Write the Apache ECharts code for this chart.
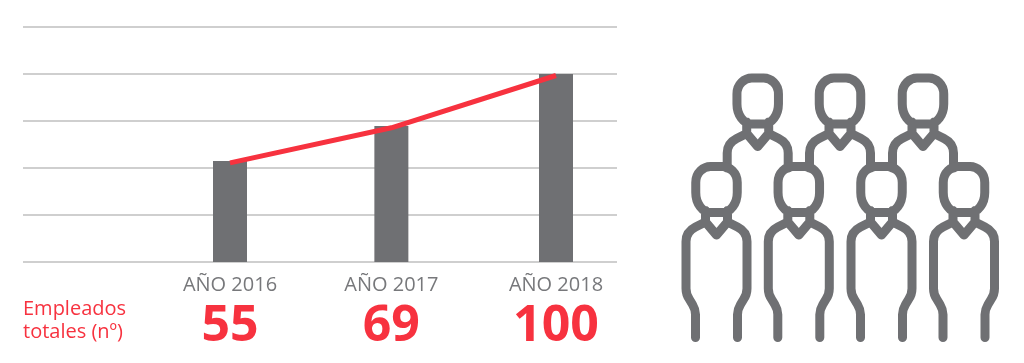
<!DOCTYPE html>
<html>
<head>
<meta charset="utf-8">
<title>Empleados totales</title>
<script src="https://cdn.jsdelivr.net/npm/echarts@6/dist/echarts.min.js"></script>
<style>
  html, body { margin: 0; padding: 0; background: #fff; }
  #main { width: 1024px; height: 363px; }
</style>
</head>
<body>
<div id="main"></div>
<script>
const years = ['AÑO 2016', 'AÑO 2017', 'AÑO 2018']
const totals = [55, 69, 100]
// x positions and heights as drawn in the picture (the source is not quite to scale)
const xValues = [2016, 2016.99, 2018]
const barValues = [53.7, 72.3, 100]
const lineValues = [52.7, 71.4, 99.2]
const yTicks = [0, 25, 50, 75, 100, 125]

const grey = '#6f7073'
const red = '#f7323f'

// one person of the icon, origin at head top centre
const head = 'M-20.75 16C-20.75 6-13 0-6 0L6 0C13 0 20.75 6 20.75 16L20.75 26C20.75 37 14 46 6 46L-6 46C-14 46-20.75 37-20.75 26Z'
const neck = 'M-11 44L-11 55.5L0 68.5L11 55.5L11 44'
const shoulders = 'M-11 55.5L-21 60.5C-27 63.5-30.5 68-30.5 75'
const frontBody = shoulders + 'L-30.5 122Q-30.5 128-27 133L-24 138Q-21 143-21 148L-21 171' +
  'M11 55.5L21 60.5C27 63.5 30.5 68 30.5 75L30.5 122Q30.5 128 27 133L24 138Q21 143 21 148L21 171'
const backBody = shoulders + 'L-30.5 90' +
  'M11 55.5L21 60.5C27 63.5 30.5 68 30.5 75L30.5 90'

// graphic has no plain path type, so the two outlines are registered as shapes
echarts.graphic.registerShape('frontPerson', echarts.graphic.extendPath(head + neck + frontBody, {}))
echarts.graphic.registerShape('backPerson', echarts.graphic.extendPath(head + neck + backBody, {}))

const frontPeople = [716.5, 798.8, 881.5, 964]
const backPeople = [757.7, 840, 923]

function person(x, y, shapeName) {
  return {
    type: shapeName,
    x: x,
    y: y,
    style: { fill: 'none', stroke: grey, lineWidth: 9, lineCap: 'round', lineJoin: 'round' },
    silent: true
  }
}

const icons = []
backPeople.forEach(function(x) { icons.push(person(x, 78, 'backPerson')) })
frontPeople.forEach(function(x) { icons.push(person(x, 166.5, 'frontPerson')) })

const myChart = echarts.init(document.getElementById('main'))
myChart.setOption({
  animation: false,
  textStyle: { fontFamily: '"Open Sans"' },
  grid: { left: 23, right: 407, top: 27, bottom: 101 },
  xAxis: {
    type: 'value',
    min: 2016 - 207 / 163,
    max: 2016 + 387 / 163,
    axisLine: { show: false },
    axisTick: { show: false },
    splitLine: { show: false },
    axisLabel: {
      customValues: xValues,
      margin: 9,
      formatter: function(val) {
        const i = xValues.indexOf(val)
        return '{year|' + years[i] + '}\n{total|' + totals[i] + '}'
      },
      rich: {
        year: { fontFamily: '"Open Sans"', fontSize: 20, color: '#77787b', lineHeight: 28, align: 'center' },
        total: { fontFamily: '"Open Sans"', fontSize: 50, fontWeight: 'bold', color: red, lineHeight: 56, align: 'center' }
      }
    }
  },
  yAxis: {
    type: 'value',
    min: yTicks[0],
    max: yTicks[yTicks.length - 1],
    interval: 25,
    axisLine: { show: false },
    axisTick: { show: false },
    axisLabel: { show: false },
    splitLine: { show: true, lineStyle: { color: '#cfcfcf', width: 2 } }
  },
  series: [
    {
      type: 'bar',
      barWidth: 34,
      itemStyle: { color: grey },
      data: xValues.map(function(x, i) { return [x, barValues[i]] })
    },
    {
      type: 'line',
      symbol: 'none',
      lineStyle: { color: red, width: 5 },
      data: xValues.map(function(x, i) { return [x, lineValues[i]] })
    }
  ],
  graphic: icons.concat([
    {
      type: 'text',
      x: 23,
      y: 299,
      style: { text: 'Empleados', fontFamily: '"Open Sans"', fontSize: 20, fill: red }
    },
    {
      type: 'text',
      x: 23,
      y: 322,
      style: { text: 'totales (nº)', fontFamily: '"Open Sans"', fontSize: 20, fill: red }
    }
  ])
})
</script>
</body>
</html>
